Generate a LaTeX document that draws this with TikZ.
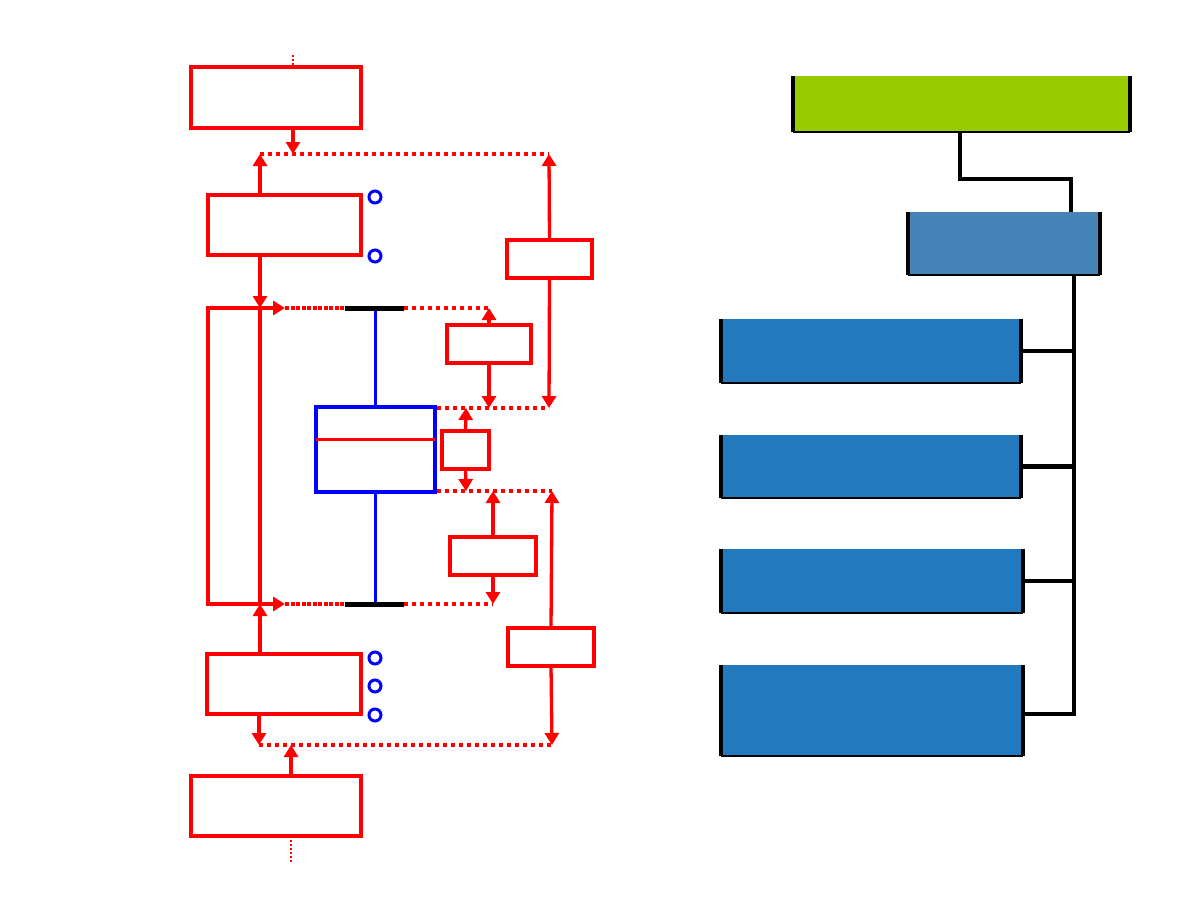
\documentclass[tikz,border=0pt]{standalone}
\usetikzlibrary{arrows.meta,calc}
\definecolor{mygreen}{HTML}{99CC00}
\definecolor{mysteel}{HTML}{4684B8}
\definecolor{myblue}{HTML}{2379BD}
\begin{document}
\begin{tikzpicture}[x=1pt,y=-1pt,
  rbox/.style={draw=red,line width=3.3pt,inner sep=0pt,outer sep=0pt},
  bbox/.style={draw=blue,line width=3.3pt,inner sep=0pt,outer sep=0pt},
  circ/.style={circle,draw=blue,line width=3pt,minimum size=12pt,inner sep=0pt},
  redot/.style={red,line width=3.3pt,dash pattern=on 4pt off 4pt},
  redense/.style={red,line width=3.3pt,dash pattern=on 4pt off 1.5pt},
  tail/.style={red,line width=1.8pt,dash pattern=on 1.5pt off 2.5pt},
  arr/.style={red,line width=3.3pt,-{Triangle[length=12pt,width=14pt]}},
  dbl/.style={red,line width=3.3pt,{Triangle[length=12pt,width=14pt]}-{Triangle[length=12pt,width=14pt]}},
  plain/.style={red,line width=3.3pt},
  whisk/.style={blue,line width=3.6pt},
  bar/.style={black,line width=5pt},
  fbox/.style={inner sep=0pt,outer sep=0pt},
  conn/.style={black,line width=4.6pt}]
\useasboundingbox (0,0) rectangle (1188,918);

% ---------------- left diagram: red boxes ----------------
\node[rbox,minimum width=170pt,minimum height=61pt] (A) at (276,97.5) {};
\node[rbox,minimum width=153pt,minimum height=60pt] (B) at (284.5,225) {};
\node[rbox,minimum width=85pt,minimum height=38pt] (C) at (549.5,259) {};
\node[bbox,minimum width=119pt,minimum height=85pt] (E) at (375.5,449.5) {};
\node[rbox,minimum width=84pt,minimum height=38pt] (F) at (489,344) {};
\node[rbox,minimum width=47pt,minimum height=38pt] (G) at (465.5,450) {};
\node[rbox,minimum width=86pt,minimum height=38pt] (H) at (493,556) {};
\node[rbox,minimum width=86pt,minimum height=38pt] (I) at (551,647) {};
\node[rbox,minimum width=154pt,minimum height=60pt] (D) at (284,684) {};
\node[rbox,minimum width=170pt,minimum height=60pt] (J) at (276,806) {};

% circles
\node[circ] (c1) at (375,197) {};
\node[circ] (c2) at (375,256) {};
\node[circ] (c3) at (375,658) {};
\node[circ] (c4) at (375,686) {};
\node[circ] (c5) at (375,715) {};

% coordinates
\coordinate (a0) at (293,55);
\coordinate (a1) at (293,154);
\coordinate (L1) at (260,154);
\coordinate (R1) at (549,154);
\coordinate (L2) at (260,308);
\coordinate (L3) at (260,604);
\coordinate (L4) at (259,745);
\coordinate (R2) at (549,408);
\coordinate (R3) at (552,491);
\coordinate (R4) at (552,745);
\coordinate (h1) at (285,308);
\coordinate (h2) at (285,604);
\coordinate (k1) at (208,308);
\coordinate (k2) at (208,604);
\coordinate (bl1) at (345,308);
\coordinate (bl2) at (404,308);
\coordinate (bl3) at (345,604);
\coordinate (bl4) at (404,604);
\coordinate (m1) at (489,308);
\coordinate (m2) at (489,408);
\coordinate (g1) at (466,408);
\coordinate (g2) at (466,491);
\coordinate (n1) at (493,491);
\coordinate (n2) at (493,604);
\coordinate (j1) at (291,745);
\coordinate (j2) at (291,862);
\coordinate (e1) at (437,408);
\coordinate (e2) at (437,491);

% dotted rows
\draw[redot] (L1) -- (R1);
\draw[redense] (h1) -- (bl1);
\draw[redot] (bl2) -- (m1);
\draw[redot] (e1) -- (R2);
\draw[redot] (e2) -- (R3);
\draw[redense] (h2) -- (bl3);
\draw[redot] (bl4) -- (n2);
\draw[redot] (L4) -- (R4);
\draw[tail] (a0) -- (A.north -| a0);
\draw[tail] (J.south -| j1) -- (j2);

% whiskers
\draw[whisk] (E.north |- bl1) -- (E.north);
\draw[whisk] (E.south) -- (E.south |- bl3);
\draw[bar] (bl1) -- (bl2);
\draw[bar] (bl3) -- (bl4);
\draw[red,line width=3pt] ($(E.west)+(0,-10.5)$) -- ($(E.east)+(0,-10.5)$);

% arrows
\draw[arr] (A.south -| a1) -- (a1);
\draw[arr] (B.north -| L1) -- (L1);
\draw[arr] (C.north) -- (R1);
\draw[arr] (C.south) -- (R2);
\draw[arr] (B.south -| L2) -- (L2);
\draw[plain] (L2) -- (L3);
\draw[dbl] (h1) -- (k1) -- (k2) -- (h2);
\draw[arr] (F.north) -- (m1);
\draw[arr] (F.south) -- (m2);
\draw[arr] (G.north) -- (g1);
\draw[arr] (G.south) -- (g2);
\draw[arr] (H.north) -- (n1);
\draw[arr] (H.south) -- (n2);
\draw[arr] (I.north) -- (R3);
\draw[arr] (I.south) -- (R4);
\draw[arr] (D.north -| L3) -- (L3);
\draw[arr] (D.south -| L4) -- (L4);
\draw[arr] (J.north -| j1) -- (j1);

% ---------------- right diagram ----------------
\node[fbox,fill=mygreen,minimum width=337pt,minimum height=56pt] (T) at (961.5,104) {};
\node[fbox,fill=mysteel,minimum width=192pt,minimum height=63pt] (S) at (1004,243.5) {};
\node[fbox,fill=myblue,minimum width=300pt,minimum height=64pt] (K1) at (871,351) {};
\node[fbox,fill=myblue,minimum width=300pt,minimum height=63pt] (K2) at (871,466.5) {};
\node[fbox,fill=myblue,minimum width=302pt,minimum height=64pt] (K3) at (872,581) {};
\node[fbox,fill=myblue,minimum width=302pt,minimum height=91pt] (K4) at (872,710.5) {};

\foreach \n in {T,S,K1,K2,K3,K4}{
  \draw[black,line width=4pt] (\n.north west) -- (\n.south west);
  \draw[black,line width=4pt] (\n.north east) -- (\n.south east);
  \draw[black,line width=1.3pt] (\n.south west) -- (\n.south east);
}

\coordinate (q1) at (960,179);
\coordinate (q2) at (1071,179);
\coordinate (bus) at (1074,275);
\coordinate (k4c) at (1021,714);

\draw[conn] (T.south -| q1) -- (q1) -- (q2) -- (S.north -| q2);
\draw[conn] (S.south -| bus) -- (bus |- k4c) -- (K4.east |- k4c);
\draw[conn] (K1.east) -- (K1.east -| bus);
\draw[conn] (K2.east) -- (K2.east -| bus);
\draw[conn] (K3.east) -- (K3.east -| bus);
\end{tikzpicture}
\end{document}
